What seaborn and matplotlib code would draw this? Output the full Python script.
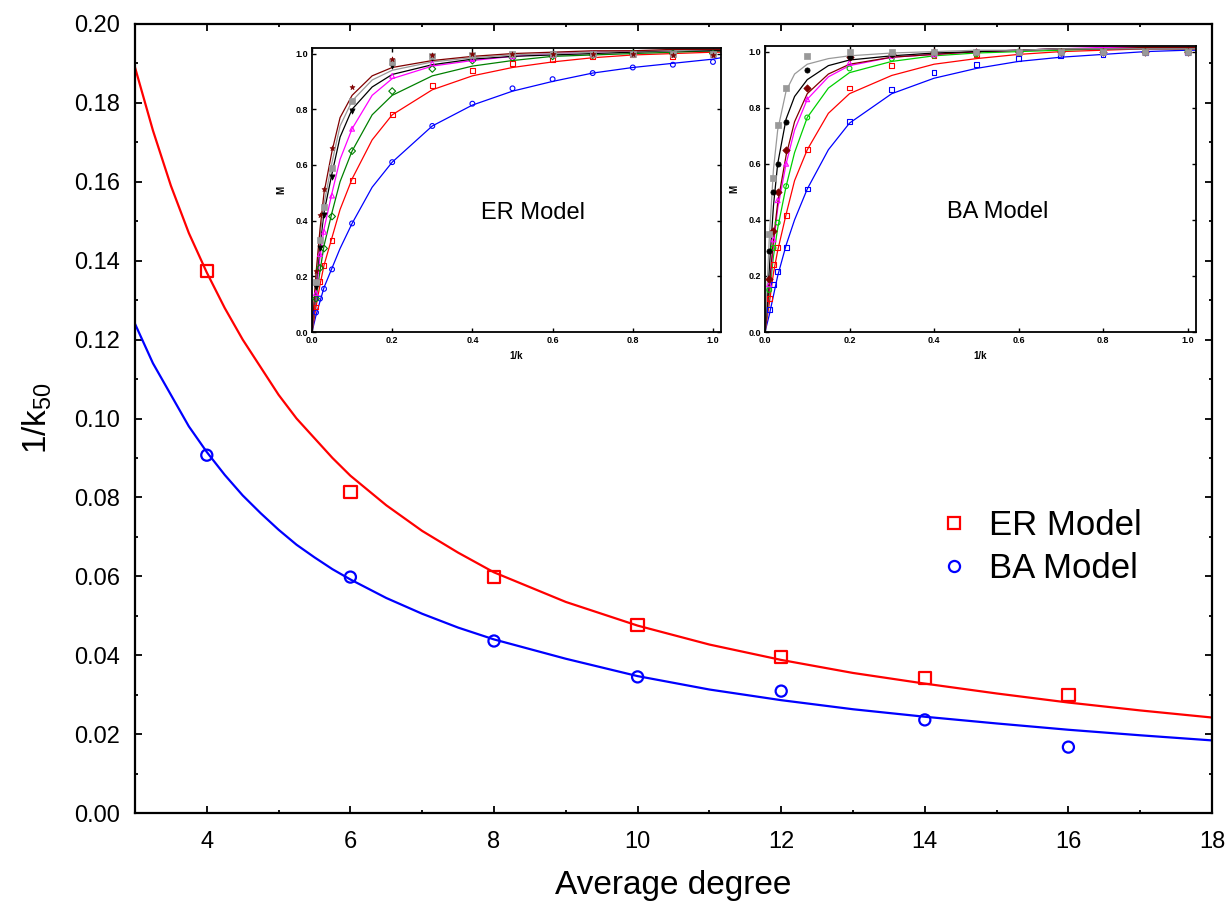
import numpy as np
import pandas as pd
import seaborn as sns
import matplotlib.pyplot as plt
from matplotlib.lines import Line2D
from matplotlib.ticker import MultipleLocator

# ---- main plot data: 1/k50 vs average degree ----
degree = [4, 6, 8, 10, 12, 14, 16]
er_points = [0.1374, 0.0814, 0.0598, 0.0477, 0.0395, 0.0342, 0.0299]
ba_points = [0.0907, 0.0598, 0.0436, 0.0345, 0.0309, 0.0236, 0.0167]

# fitted curves
fit_degree = [3, 3.25, 3.5, 3.75, 4, 4.25, 4.5, 4.75, 5, 5.25, 5.5, 5.75, 6, 6.5, 7, 7.5,
              8, 9, 10, 11, 12, 13, 14, 15, 16, 17, 18]
er_fit = [0.189, 0.173, 0.159, 0.147, 0.137, 0.128, 0.120, 0.113, 0.106, 0.100, 0.095, 0.090,
          0.0855, 0.078, 0.0715, 0.066, 0.0610, 0.0535, 0.0475, 0.0427, 0.0388, 0.0355, 0.0328,
          0.0303, 0.0280, 0.0260, 0.0242]
ba_fit = [0.124, 0.114, 0.106, 0.098, 0.0915, 0.0857, 0.0805, 0.0760, 0.0718, 0.0680, 0.0648,
          0.0618, 0.0592, 0.0545, 0.0505, 0.0470, 0.0440, 0.0391, 0.0347, 0.0313, 0.0286, 0.0263,
          0.0244, 0.0227, 0.0211, 0.0197, 0.0184]

# ---- inset data: M vs 1/k, one series per average degree ----
inv_k_fit = [0, 0.01, 0.02, 0.03, 0.05, 0.07, 0.1, 0.15, 0.2, 0.3, 0.4, 0.5, 0.6, 0.7, 0.8, 0.9, 1.0, 1.02]
inv_k_pts = [0.01, 0.02, 0.03, 0.05, 0.1, 0.2, 0.3, 0.4, 0.5, 0.6, 0.7, 0.8, 0.9, 1.0]
series_names = ['k4', 'k6', 'k8', 'k10', 'k12', 'k14', 'k16']

er_fit_M = {
    'k4':  [0, 0.06, 0.11, 0.16, 0.23, 0.30, 0.39, 0.52, 0.61, 0.74, 0.815, 0.865, 0.90, 0.93, 0.95, 0.965, 0.98, 0.985],
    'k6':  [0, 0.09, 0.17, 0.24, 0.34, 0.44, 0.55, 0.69, 0.78, 0.87, 0.92, 0.95, 0.97, 0.985, 0.995, 1.0, 1.005, 1.005],
    'k8':  [0, 0.12, 0.22, 0.31, 0.43, 0.54, 0.65, 0.78, 0.85, 0.92, 0.955, 0.975, 0.99, 0.995, 1.0, 1.005, 1.01, 1.01],
    'k10': [0, 0.14, 0.27, 0.37, 0.50, 0.62, 0.73, 0.85, 0.91, 0.955, 0.975, 0.99, 1.0, 1.005, 1.01, 1.01, 1.015, 1.015],
    'k12': [0, 0.17, 0.31, 0.43, 0.57, 0.70, 0.80, 0.88, 0.925, 0.96, 0.98, 0.99, 0.995, 1.0, 1.005, 1.01, 1.01, 1.01],
    'k14': [0, 0.19, 0.34, 0.46, 0.61, 0.74, 0.83, 0.905, 0.94, 0.97, 0.985, 0.995, 1.0, 1.005, 1.01, 1.01, 1.015, 1.015],
    'k16': [0, 0.21, 0.37, 0.50, 0.65, 0.77, 0.85, 0.92, 0.95, 0.975, 0.99, 1.0, 1.005, 1.01, 1.01, 1.015, 1.015, 1.015],
}
er_pts_M = {
    'k4':  [0.07, 0.12, 0.155, 0.225, 0.39, 0.61, 0.74, 0.82, 0.875, 0.908, 0.93, 0.95, 0.96, 0.97],
    'k6':  [0.09, 0.18, 0.24, 0.33, 0.545, 0.78, 0.885, 0.94, 0.965, 0.98, 0.99, 0.995, 0.99, 0.995],
    'k8':  [0.12, 0.23, 0.30, 0.415, 0.65, 0.865, 0.945, 0.975, 0.985, 0.99, 0.995, 1.0, 1.0, 1.0],
    'k10': [0.14, 0.28, 0.36, 0.49, 0.73, 0.92, 0.965, 0.98, 0.99, 0.995, 1.0, 1.0, 1.0, 1.0],
    'k12': [0.16, 0.30, 0.42, 0.555, 0.795, 0.955, 0.985, 0.99, 0.995, 1.0, 1.0, 1.0, 1.0, 1.0],
    'k14': [0.18, 0.33, 0.45, 0.59, 0.83, 0.97, 0.99, 0.995, 1.0, 1.0, 1.0, 1.0, 1.0, 1.0],
    'k16': [0.22, 0.42, 0.515, 0.66, 0.88, 0.98, 0.995, 1.0, 1.0, 1.0, 1.0, 1.0, 0.995, 0.995],
}
ba_fit_M = {
    'k4':  [0, 0.06, 0.13, 0.20, 0.31, 0.40, 0.51, 0.65, 0.745, 0.85, 0.905, 0.94, 0.965, 0.98, 0.99, 1.0, 1.005, 1.005],
    'k6':  [0, 0.10, 0.21, 0.29, 0.42, 0.54, 0.65, 0.78, 0.85, 0.915, 0.955, 0.975, 0.99, 1.0, 1.005, 1.01, 1.01, 1.01],
    'k8':  [0, 0.13, 0.27, 0.37, 0.52, 0.64, 0.765, 0.87, 0.925, 0.965, 0.985, 0.995, 1.0, 1.005, 1.01, 1.015, 1.015, 1.015],
    'k10': [0, 0.15, 0.31, 0.44, 0.60, 0.72, 0.83, 0.91, 0.95, 0.98, 0.99, 1.0, 1.005, 1.01, 1.015, 1.015, 1.015, 1.015],
    'k12': [0, 0.16, 0.33, 0.46, 0.63, 0.75, 0.85, 0.92, 0.955, 0.98, 0.99, 1.0, 1.005, 1.01, 1.01, 1.015, 1.015, 1.015],
    'k14': [0, 0.22, 0.45, 0.60, 0.76, 0.84, 0.90, 0.95, 0.97, 0.985, 0.995, 1.0, 1.005, 1.01, 1.01, 1.01, 1.01, 1.01],
    'k16': [0, 0.33, 0.58, 0.72, 0.86, 0.92, 0.955, 0.975, 0.985, 0.995, 1.0, 1.005, 1.005, 1.01, 1.01, 1.01, 1.01, 1.01],
}
ba_pts_M = {
    'k4':  [0.08, 0.17, 0.215, 0.30, 0.51, 0.75, 0.865, 0.925, 0.955, 0.975, 0.985, 0.99, 0.995, 0.995],
    'k6':  [0.12, 0.24, 0.30, 0.415, 0.65, 0.87, 0.95, 0.985, 0.99, 0.995, 1.0, 1.0, 1.0, 1.0],
    'k8':  [0.15, 0.30, 0.39, 0.52, 0.765, 0.94, 0.975, 0.985, 0.99, 1.0, 1.0, 1.0, 1.0, 1.0],
    'k10': [0.17, 0.33, 0.47, 0.60, 0.83, 0.96, 0.985, 0.99, 1.0, 1.0, 1.0, 1.0, 1.0, 1.0],
    'k12': [0.19, 0.36, 0.50, 0.65, 0.87, 0.98, 0.99, 1.0, 1.0, 1.0, 1.0, 1.0, 1.0, 1.0],
    'k14': [0.29, 0.50, 0.60, 0.75, 0.935, 0.98, 0.99, 1.0, 1.0, 1.0, 1.0, 1.0, 1.0, 1.0],
    'k16': [0.35, 0.55, 0.74, 0.87, 0.985, 1.0, 1.0, 1.0, 1.0, 1.0, 1.0, 1.0, 1.0, 1.0],
}

# colour / marker per series (marker, filled?)
er_style = {
    'k4': ('#0000ff', 'o', False), 'k6': ('#ff0000', 's', False), 'k8': ('#008000', 'D', False),
    'k10': ('#ff00ff', '^', False), 'k12': ('#000000', 'v', True), 'k14': ('#999999', 's', True),
    'k16': ('#800000', '*', True),
}
ba_style = {
    'k4': ('#0000ff', 's', False), 'k6': ('#ff0000', 's', False), 'k8': ('#00d000', 'o', False),
    'k10': ('#ff00ff', '^', False), 'k12': ('#800000', 'D', True), 'k14': ('#000000', 'o', True),
    'k16': ('#999999', 's', True),
}

sns.set_style('ticks')
plt.rcParams['font.family'] = ['Liberation Sans', 'DejaVu Sans']
plt.rcParams['mathtext.fontset'] = 'custom'
plt.rcParams['mathtext.rm'] = 'Liberation Sans'
plt.rcParams['mathtext.default'] = 'regular'
for key in ['text.color', 'axes.labelcolor', 'xtick.color', 'ytick.color', 'axes.edgecolor']:
    plt.rcParams[key] = 'black'

W, H = 1232, 914
fig = plt.figure(figsize=(W / 100, H / 100), dpi=100)


def px_axes(left, top, right, bottom):
    return fig.add_axes([left / W, 1 - bottom / H, (right - left) / W, (bottom - top) / H])


# ---- main axes ----
ax = px_axes(135, 24, 1212, 813)
sns.lineplot(x=fit_degree, y=er_fit, color='#ff0000', lw=1.6, ax=ax)
sns.lineplot(x=fit_degree, y=ba_fit, color='#0000ff', lw=1.6, ax=ax)
sns.scatterplot(x=degree, y=er_points, marker='s', s=80, facecolor='none',
                edgecolor='#ff0000', linewidth=1.6, ax=ax, zorder=3)
sns.scatterplot(x=degree, y=ba_points, marker='o', s=64, facecolor='none',
                edgecolor='#0000ff', linewidth=1.6, ax=ax, zorder=3)

ax.set_xlim(3, 18)
ax.set_ylim(0, 0.20)
ax.xaxis.set_major_locator(MultipleLocator(2))
ax.xaxis.set_minor_locator(MultipleLocator(1))
ax.yaxis.set_major_locator(MultipleLocator(0.02))
ax.yaxis.set_minor_locator(MultipleLocator(0.01))
ax.yaxis.set_major_formatter(plt.FormatStrFormatter('%.2f'))
ax.tick_params(which='both', direction='in', top=True, right=True, width=1.3)
ax.tick_params(which='major', length=5, labelsize=17, pad=11)
ax.tick_params(which='minor', length=2.5)
ax.tick_params(axis='x', which='major', pad=13)
for sp in ax.spines.values():
    sp.set_linewidth(1.6)
ax.set_xlabel('Average degree', fontsize=24, labelpad=12)
ax.set_ylabel('1/k$_{50}$', fontsize=24, labelpad=14)

handles = [
    Line2D([], [], ls='none', marker='s', ms=9, mfc='none', mec='#ff0000', mew=1.6),
    Line2D([], [], ls='none', marker='o', ms=8, mfc='none', mec='#0000ff', mew=1.6),
]
ax.legend(handles, ['ER Model', 'BA Model'], loc='center left', bbox_to_anchor=(0.748, 0.337),
          frameon=False, fontsize=25, handlelength=0.8, handletextpad=0.6,
          labelspacing=0.27, borderpad=0, borderaxespad=0)


# ---- insets ----
def draw_inset(axi, fit_M, pts_M, style, title):
    for name in series_names:
        col, mk, filled = style[name]
        sns.lineplot(x=inv_k_fit, y=fit_M[name], color=col, lw=0.9, ax=axi)
        if filled:
            sns.scatterplot(x=inv_k_pts, y=pts_M[name], marker=mk, s=14, color=col,
                            edgecolor=col, linewidth=0.5, ax=axi, zorder=3)
        else:
            sns.scatterplot(x=inv_k_pts, y=pts_M[name], marker=mk, s=12, facecolor='none',
                            edgecolor=col, linewidth=0.8, ax=axi, zorder=3)
    axi.set_xlim(0, 1.02)
    axi.set_ylim(0, 1.02)
    axi.xaxis.set_major_locator(MultipleLocator(0.2))
    axi.yaxis.set_major_locator(MultipleLocator(0.2))
    axi.xaxis.set_major_formatter(plt.FormatStrFormatter('%.1f'))
    axi.yaxis.set_major_formatter(plt.FormatStrFormatter('%.1f'))
    axi.tick_params(direction='in', top=True, right=True, length=3, width=1,
                    labelsize=6.5, pad=3)
    for lab in axi.get_xticklabels() + axi.get_yticklabels():
        lab.set_fontweight('bold')
    for sp in axi.spines.values():
        sp.set_linewidth(1.3)
    axi.set_xlabel('1/k', fontsize=7, fontweight='bold', labelpad=4)
    axi.set_ylabel('M', fontsize=7, fontweight='bold', labelpad=6)
    axi.text(0.54, 0.42, title, transform=axi.transAxes, ha='center', va='center', fontsize=17)


ax_er = px_axes(312, 48, 721, 332)
draw_inset(ax_er, er_fit_M, er_pts_M, er_style, 'ER Model')
ax_ba = px_axes(765, 46, 1196, 332)
draw_inset(ax_ba, ba_fit_M, ba_pts_M, ba_style, 'BA Model')

plt.savefig('out.png', dpi=100)
